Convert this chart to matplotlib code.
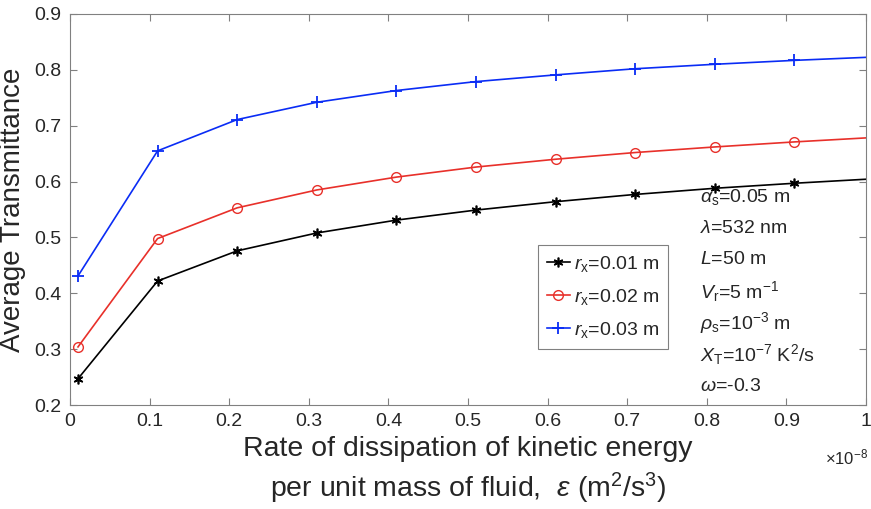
import matplotlib
matplotlib.use("Agg")
import matplotlib.pyplot as plt

plt.rcParams['font.family'] = ['Liberation Sans', 'DejaVu Sans']
plt.rcParams['mathtext.fontset'] = 'custom'
plt.rcParams['mathtext.rm'] = 'Liberation Sans'
plt.rcParams['mathtext.it'] = 'Liberation Sans:italic'

# x in units of 1e-8 m^2/s^3
eps = [0.01, 0.11, 0.21, 0.31, 0.41, 0.51, 0.61, 0.71, 0.81, 0.91, 1.01]
t_r001 = [0.247, 0.422, 0.476, 0.508, 0.531, 0.549, 0.564, 0.577, 0.588, 0.597, 0.605]
t_r002 = [0.304, 0.498, 0.553, 0.585, 0.608, 0.626, 0.640, 0.652, 0.662, 0.671, 0.679]
t_r003 = [0.431, 0.655, 0.711, 0.742, 0.763, 0.779, 0.791, 0.802, 0.810, 0.817, 0.823]
labels = [r'$r_{\rm x}$=0.01 m', r'$r_{\rm x}$=0.02 m', r'$r_{\rm x}$=0.03 m']
xticks = [0, 0.1, 0.2, 0.3, 0.4, 0.5, 0.6, 0.7, 0.8, 0.9, 1]
yticks = [0.2, 0.3, 0.4, 0.5, 0.6, 0.7, 0.8, 0.9]
params = [r'$\alpha_{\rm s}$=0.05 m', r'$\lambda$=532 nm', r'$L$=50 m',
          r'$V_{\rm r}$=5 m$^{-1}$', r'$\rho_{\rm s}$=10$^{-3}$ m',
          r'$X_{\rm T}$=10$^{-7}$ K$^2$/s', r'$\omega$=-0.3']

txt = '#262626'
grey = '#808080'
asterisk = (6, 2, 0)

fig = plt.figure(figsize=(8.71, 5.09), dpi=100)
ax = fig.add_axes([0.0804, 0.2043, 0.9139, 0.7682])

ax.plot(eps, t_r001, color='black', marker=asterisk, markersize=7, mew=1.2, lw=1.2, label=labels[0])
ax.plot(eps, t_r002, color='#e8302a', marker='o', markersize=7, mfc='none', lw=1.2, label=labels[1])
ax.plot(eps, t_r003, color='#0a2cf5', marker='+', markersize=8, mew=1.3, lw=1.2, label=labels[2])

ax.set_xlim(0, 1)
ax.set_ylim(0.2, 0.9)
ax.set_xticks(xticks)
ax.set_xticklabels([f'{v:g}' for v in xticks])
ax.set_yticks(yticks)
ax.set_yticklabels([f'{v:g}' for v in yticks])
ax.tick_params(direction='in', length=5, color=grey, labelcolor=txt, labelsize=14,
               top=True, right=True, pad=6)
for s in ax.spines.values():
    s.set_color(grey)
    s.set_linewidth(0.8)

ax.set_ylabel('Average Transmittance', fontsize=20, color=txt, labelpad=6)
ax.set_xlabel('Rate of dissipation of kinetic energy\nper unit mass of fluid,  $\\epsilon$ (m$^2$/s$^3$)',
              fontsize=20.5, color=txt, labelpad=4, linespacing=1.35)
ax.text(1.003, -0.16, r'$\times$10$^{-8}$', transform=ax.transAxes, fontsize=12,
        color=txt, ha='right', va='bottom')

leg = ax.legend(loc='upper left', bbox_to_anchor=(0.588, 0.409), fontsize=14,
                fancybox=False, edgecolor=grey, framealpha=1, handlelength=1.2,
                handletextpad=0.2, borderpad=0.45, labelspacing=0.68, borderaxespad=0)
leg.get_frame().set_linewidth(0.8)
for t in leg.get_texts():
    t.set_color(txt)

y0 = 0.533
for i, p in enumerate(params):
    ax.text(0.791, y0 - i * 0.081, p, transform=ax.transAxes, fontsize=14,
            color=txt, ha='left', va='center')

fig.savefig('out.png', dpi=100)
